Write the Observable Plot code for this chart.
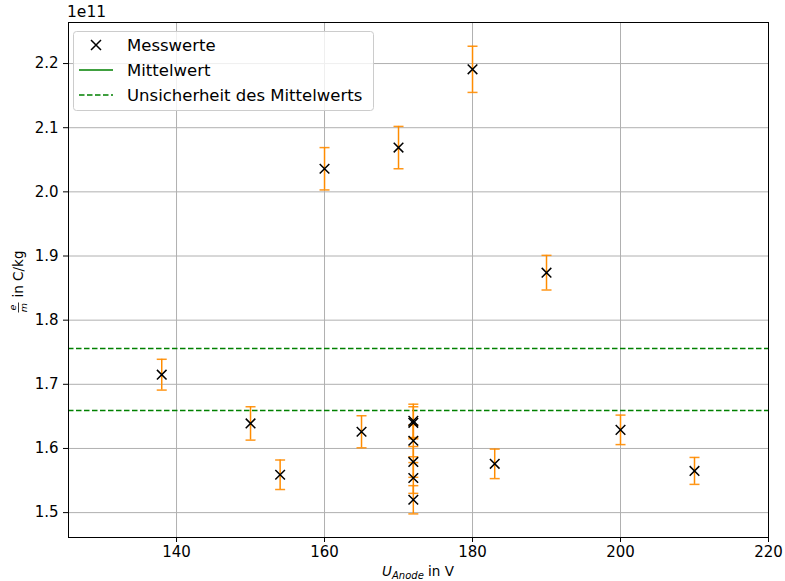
<!DOCTYPE html>
<html>
<head>
<meta charset="utf-8">
<script src="https://cdn.jsdelivr.net/npm/d3@7"></script>
<script src="https://cdn.jsdelivr.net/npm/@observablehq/plot@0.6"></script>
<style>
  html, body { margin: 0; padding: 0; background: #fff; }
  svg { display: block; }
</style>
</head>
<body>
<div id="chart"></div>
<script>
// Anode voltage (V)
const uAnode = [138,150,154,160,165,170,172,172,172,172,172,172,180,183,190,200,210];
// e/m in units of 1e11 C/kg
const emValues = [1.715,1.639,1.559,2.036,1.626,2.069,1.643,1.640,1.612,1.579,1.554,1.520,2.191,1.576,1.874,1.629,1.565];
const emErrors = [0.024,0.026,0.023,0.033,0.025,0.033,0.026,0.025,0.025,0.024,0.024,0.022,0.036,0.023,0.027,0.023,0.021];
// mean and its uncertainty band (1e11 C/kg)
const meanValue = 1.7075;
const meanBounds = [1.659, 1.756];
const xTicks = [140,160,180,200,220];
const yTicks = [1.5,1.6,1.7,1.8,1.9,2.0,2.1,2.2];
const legendLabels = ["Messwerte", "Mittelwert", "Unsicherheit des Mittelwerts"];

const data = uAnode.map((u, i) => ({u, v: emValues[i], e: emErrors[i]}));

const timesSymbol = {
  draw(ctx, size) {
    const s = Math.sqrt(size / Math.PI);
    ctx.moveTo(-s, -s); ctx.lineTo(s, s);
    ctx.moveTo(-s, s); ctx.lineTo(s, -s);
  }
};
const capSymbol = {
  draw(ctx, size) {
    const s = Math.sqrt(size / Math.PI);
    ctx.moveTo(-s, 0); ctx.lineTo(s, 0);
  }
};

const W = 785, H = 581;
const mL = 68, mR = 17, mT = 22, mB = 44;

const chart = Plot.plot({
  width: W,
  height: H,
  marginLeft: mL,
  marginRight: mR,
  marginTop: mT,
  marginBottom: mB,
  style: {fontFamily: "DejaVu Sans", fontSize: "15px", color: "black", background: "white"},
  x: {domain: [125.4, 220], ticks: xTicks},
  y: {domain: [1.4612, 2.264], ticks: yTicks},
  marks: [
    Plot.gridX(xTicks, {stroke: "#b0b0b0", strokeOpacity: 1, strokeWidth: 1}),
    Plot.gridY(yTicks, {stroke: "#b0b0b0", strokeOpacity: 1, strokeWidth: 1}),
    Plot.ruleY(meanBounds, {stroke: "green", strokeWidth: 1.5, strokeDasharray: "5.5,2.5"}),
    Plot.ruleX(data, {x: "u", y1: d => d.v - d.e, y2: d => d.v + d.e, stroke: "darkorange", strokeWidth: 1.5}),
    Plot.dot(data, {x: "u", y: d => d.v - d.e, symbol: capSymbol, r: 5, stroke: "darkorange", strokeWidth: 1.5, strokeOpacity: 0.9}),
    Plot.dot(data, {x: "u", y: d => d.v + d.e, symbol: capSymbol, r: 5, stroke: "darkorange", strokeWidth: 1.5, strokeOpacity: 0.9}),
    Plot.dot(data, {x: "u", y: "v", symbol: timesSymbol, r: 4.8, stroke: "black", strokeWidth: 1.5}),
    Plot.axisX(xTicks, {tickSize: 5, tickPadding: 4, label: null, fontSize: 15, tickFormat: d => d}),
    Plot.axisY(yTicks, {tickSize: 5, tickPadding: 5, label: null, fontSize: 15, tickFormat: d => d.toFixed(1)}),
    Plot.frame({stroke: "black", strokeWidth: 1})
  ]
});

document.getElementById("chart").appendChild(chart);

const svg = d3.select(chart);
const font = "DejaVu Sans";

// offset text
svg.append("text").attr("x", mL - 1).attr("y", 17).attr("text-anchor", "start")
  .attr("font-family", font).attr("font-size", 15.5).attr("fill", "black")
  .text("1e11");

// x label
const xl = svg.append("text").attr("x", (mL + W - mR) / 2).attr("y", 576)
  .attr("text-anchor", "middle").attr("font-family", font).attr("font-size", 13.5).attr("fill", "black");
xl.append("tspan").attr("font-style", "italic").text("U");
xl.append("tspan").attr("font-style", "italic").attr("font-size", 10).attr("dy", 3).text("Anode");
xl.append("tspan").attr("dy", -3).text(" in V");

// y label: fraction e/m then " in C/kg"
const cy = (mT + H - mB) / 2;
const yl = svg.append("g").attr("transform", `translate(21,${cy}) rotate(-90)`);
const labelStart = -33;
yl.append("text").attr("x", labelStart + 5).attr("y", -5).attr("text-anchor", "middle")
  .attr("font-family", font).attr("font-size", 9.5).attr("font-style", "italic").attr("fill", "black").text("e");
yl.append("line").attr("x1", labelStart).attr("x2", labelStart + 10).attr("y1", -2.5).attr("y2", -2.5)
  .attr("stroke", "black").attr("stroke-width", 0.8);
yl.append("text").attr("x", labelStart + 5).attr("y", 5.5).attr("text-anchor", "middle")
  .attr("font-family", font).attr("font-size", 9.5).attr("font-style", "italic").attr("fill", "black").text("m");
yl.append("text").attr("x", labelStart + 15).attr("y", 2).attr("text-anchor", "start")
  .attr("font-family", font).attr("font-size", 13.5).attr("fill", "black").text("in C/kg");

// legend
const lg = svg.append("g");
lg.append("rect").attr("x", 73.5).attr("y", 31.5).attr("width", 300).attr("height", 79)
  .attr("rx", 3).attr("fill", "white").attr("fill-opacity", 0.8).attr("stroke", "#cccccc").attr("stroke-width", 1);
const rows = [45, 70, 95];
// Messwerte marker
lg.append("path").attr("d", `M91,${rows[0]-5}L101,${rows[0]+5}M91,${rows[0]+5}L101,${rows[0]-5}`)
  .attr("stroke", "black").attr("stroke-width", 1.5);
// Mittelwert line
lg.append("line").attr("x1", 79).attr("x2", 113).attr("y1", rows[1]).attr("y2", rows[1])
  .attr("stroke", "green").attr("stroke-width", 1.5);
// Unsicherheit line
lg.append("line").attr("x1", 79).attr("x2", 113).attr("y1", rows[2]).attr("y2", rows[2])
  .attr("stroke", "green").attr("stroke-width", 1.5).attr("stroke-dasharray", "5.5,2.5");
legendLabels.forEach((t, i) => {
  lg.append("text").attr("x", 127).attr("y", rows[i] + 6).attr("text-anchor", "start")
    .attr("font-family", font).attr("font-size", 16.5).attr("fill", "black").text(t);
});
</script>
</body>
</html>
